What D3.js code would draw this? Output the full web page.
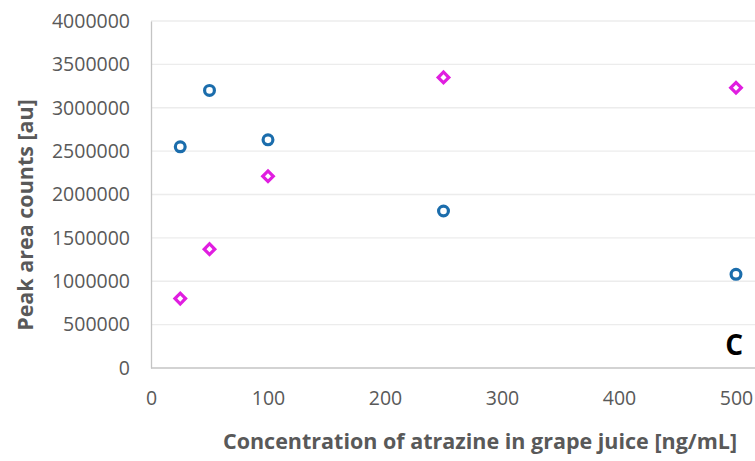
<!DOCTYPE html>
<html>
<head>
<meta charset="utf-8">
<script src="https://cdn.jsdelivr.net/npm/d3@7/dist/d3.min.js"></script>
<style>
  html, body { margin: 0; padding: 0; background: #ffffff; }
  svg { display: block; font-family: "Open Sans", "Noto Sans", sans-serif; }
</style>
</head>
<body>
<svg id="chart" width="755" height="461"></svg>
<script>
// Spiked concentrations of atrazine (ng/mL)
const concentrations = [25, 50, 100, 250, 500];
// Peak area counts for the two measured series
const seriesBlue = [2550000, 3200000, 2630000, 1810000, 1080000];
const seriesMagenta = [800000, 1370000, 2210000, 3350000, 3230000];
// Axis ticks
const xTicks = [0, 100, 200, 300, 400, 500];
const yTicks = [0, 500000, 1000000, 1500000, 2000000, 2500000, 3000000, 3500000, 4000000];

const fontFamily = '"Open Sans", "Noto Sans", sans-serif';
const svg = d3.select("#chart");
const plotLeft = 151, plotTop = 21, plotBottom = 368, plotRight = 780;

const x = d3.scaleLinear().domain([0, 500]).range([plotLeft, 736]);
const y = d3.scaleLinear().domain([0, 4000000]).range([plotBottom, plotTop]);

// horizontal gridlines
svg.append("g")
  .selectAll("line")
  .data(yTicks.filter(d => d > 0))
  .join("line")
  .attr("x1", plotLeft).attr("x2", plotRight)
  .attr("y1", d => y(d)).attr("y2", d => y(d))
  .attr("stroke", "#ececec").attr("stroke-width", 1.3);

// y axis
const yAxis = svg.append("g")
  .attr("transform", `translate(${plotLeft},0)`)
  .call(d3.axisLeft(y).tickValues(yTicks).tickFormat(d3.format("d")).tickSize(0).tickPadding(21))
  .attr("font-family", fontFamily);
yAxis.select(".domain").attr("stroke", "#c4c4c4").attr("stroke-width", 1.3);
yAxis.selectAll("text").attr("font-size", 19.5).attr("fill", "#595959");

// x axis
const xAxis = svg.append("g")
  .attr("transform", `translate(0,${plotBottom})`)
  .call(d3.axisBottom(x).tickValues(xTicks).tickFormat(d3.format("d")).tickSize(0).tickPadding(23))
  .attr("font-family", fontFamily);
xAxis.select(".domain").attr("d", `M${plotLeft},0H${plotRight}`)
  .attr("stroke", "#c4c4c4").attr("stroke-width", 1.3);
xAxis.selectAll("text").attr("font-size", 19.5).attr("fill", "#595959");

// blue series: open circles
svg.append("g")
  .selectAll("circle")
  .data(concentrations.map((c, i) => [c, seriesBlue[i]]))
  .join("circle")
  .attr("cx", d => x(d[0])).attr("cy", d => y(d[1]))
  .attr("r", 4.9)
  .attr("fill", "#ffffff")
  .attr("stroke", "#1b6dac").attr("stroke-width", 3.2);

// magenta series: open diamonds
const diamond = d3.symbol().type(d3.symbolSquare).size(56);
svg.append("g")
  .selectAll("path")
  .data(concentrations.map((c, i) => [c, seriesMagenta[i]]))
  .join("path")
  .attr("d", diamond)
  .attr("transform", d => `translate(${x(d[0])},${y(d[1])}) rotate(45)`)
  .attr("fill", "#ffffff")
  .attr("stroke", "#e01ee0").attr("stroke-width", 3.2);

// axis titles
svg.append("text")
  .attr("transform", "translate(33,215) rotate(-90)")
  .attr("text-anchor", "middle")
  .attr("font-size", 21.5).attr("font-weight", "bold").attr("fill", "#595959")
  .text("Peak area counts [au]");

svg.append("text")
  .attr("x", 480).attr("y", 449)
  .attr("text-anchor", "middle")
  .attr("font-size", 21.5).attr("font-weight", "bold").attr("fill", "#595959")
  .text("Concentration of atrazine in grape juice [ng/mL]");

// panel letter
svg.append("text")
  .attr("x", 743).attr("y", 355)
  .attr("text-anchor", "end")
  .attr("font-size", 28).attr("font-weight", "bold").attr("fill", "#000000")
  .text("C");
</script>
</body>
</html>
